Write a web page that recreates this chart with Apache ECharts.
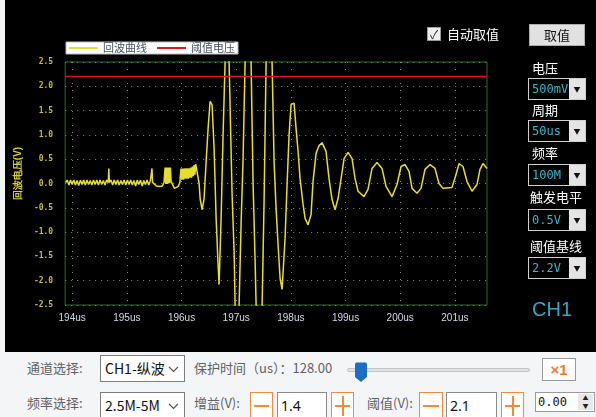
<!DOCTYPE html>
<html>
<head>
<meta charset="utf-8">
<script src="https://cdn.jsdelivr.net/npm/echarts@6/dist/echarts.min.js"></script>
<style>
body{margin:0;width:596px;height:417px;background:#f4f5f7;position:relative;overflow:hidden;font-family:"Noto Sans CJK SC","Noto Sans",sans-serif;}
#scope{position:absolute;left:5px;top:0;width:591px;height:352px;background:#000;}
#mark{position:absolute;left:0;top:0;width:591px;height:352px;}
.abs{position:absolute;white-space:nowrap;}
.wlab{position:absolute;color:#fff;font-size:13px;line-height:16px;left:532px;}
.combo{position:absolute;left:528px;width:58px;height:22px;box-sizing:border-box;border:1px solid #cfcfcf;background:#000;}
.combo span{position:absolute;left:3px;top:2px;color:#3ab7c9;font-family:"DejaVu Sans Mono",monospace;font-size:12px;line-height:16px;}
.combo i{position:absolute;right:0;top:0;width:16px;height:100%;background:#e4e4e4;font-style:normal;font-size:7px;color:#111;text-align:center;line-height:20px;}
.glab{position:absolute;color:#5f6266;font-size:13px;line-height:16px;}
.sel{position:absolute;left:100px;width:85px;height:27px;box-sizing:border-box;border:1px solid #7d7d7d;background:#fff;}
.sel span{position:absolute;left:4px;top:3px;font-size:14px;line-height:18px;color:#111;}
.sel svg{position:absolute;right:5px;top:10px;}
.obtn{position:absolute;width:23px;height:28px;box-sizing:border-box;border:1px solid #f08a3c;background:#fff;top:392px;}
.obtn b{position:absolute;left:3px;right:3px;top:12px;height:2px;background:#f08a3c;}
.obtn em{position:absolute;top:3px;bottom:3px;left:10px;width:2px;background:#f08a3c;}
.inp{position:absolute;height:28px;top:392px;box-sizing:border-box;border:1px solid #8a8a8a;background:#fff;}
.inp span{position:absolute;left:3px;top:4px;font-size:14px;line-height:18px;color:#111;font-family:"Noto Sans",sans-serif;}
</style>
</head>
<body>
<div id="scope"><div id="mark"></div></div>

<!-- right side controls -->
<div class="abs" style="left:427px;top:27px;width:14px;height:14px;box-sizing:border-box;border:1px solid #9a9a9a;background:#eeeeee;color:#333;font-size:12px;line-height:12px;text-align:center;">✓</div>
<div class="abs" style="left:447px;top:25px;color:#fff;font-size:13px;line-height:18px;">自动取值</div>
<div class="abs" style="left:529px;top:24px;width:56px;height:22px;box-sizing:border-box;border:1px solid #adadad;background:#e1e1e1;color:#111;font-size:13px;line-height:20px;text-align:center;">取值</div>

<div class="wlab" style="top:60px;">电压</div>
<div class="combo" style="top:78px;"><span>500mV</span><i>▼</i></div>
<div class="wlab" style="top:102px;">周期</div>
<div class="combo" style="top:120px;"><span>50us</span><i>▼</i></div>
<div class="wlab" style="top:145px;">频率</div>
<div class="combo" style="top:164px;"><span>100M</span><i>▼</i></div>
<div class="wlab" style="top:189px;left:530px;">触发电平</div>
<div class="combo" style="top:209px;"><span>0.5V</span><i>▼</i></div>
<div class="wlab" style="top:238px;left:530px;">阈值基线</div>
<div class="combo" style="top:257px;"><span>2.2V</span><i>▼</i></div>
<div class="abs" style="left:532px;top:296px;color:#30a9c2;font-family:'Liberation Sans',sans-serif;font-size:20px;line-height:26px;">CH1</div>

<!-- bottom panel -->
<div class="glab" style="left:27px;top:360px;">通道选择:</div>
<div class="sel" style="top:355px;"><span>CH1-纵波</span><svg width="11" height="7"><polyline points="1,1 5.5,5.5 10,1" fill="none" stroke="#555" stroke-width="1.2"/></svg></div>
<div class="glab" style="left:194px;top:360px;">保护时间（us）：128.00</div>
<div class="abs" style="left:347px;top:368px;width:183px;height:4px;box-sizing:border-box;border:1px solid #c4c4c4;background:#e2e2e2;border-radius:2px;"></div>
<svg class="abs" style="left:354px;top:362px;" width="14" height="21"><polygon points="1,2 2,0.5 12,0.5 13,2 13,15 7,20 1,15" fill="#1b6ec2"/></svg>
<div class="abs" style="left:542px;top:358px;width:34px;height:23px;box-sizing:border-box;border:1px solid #9a9a9a;background:#fff;color:#f07a1e;font-weight:bold;font-size:15px;line-height:21px;text-align:center;font-family:'Liberation Sans',sans-serif;">×1</div>

<div class="glab" style="left:27px;top:395px;">频率选择:</div>
<div class="sel" style="top:392px;height:30px;"><span>2.5M-5M</span><svg width="11" height="7"><polyline points="1,1 5.5,5.5 10,1" fill="none" stroke="#555" stroke-width="1.2"/></svg></div>
<div class="glab" style="left:194px;top:395px;">增益(V):</div>
<div class="obtn" style="left:250px;"><b></b></div>
<div class="inp" style="left:277px;width:50px;"><span>1.4</span></div>
<div class="obtn" style="left:331px;"><b></b><em></em></div>
<div class="glab" style="left:367px;top:395px;">阈值(V):</div>
<div class="obtn" style="left:419px;width:24px;"><b></b></div>
<div class="inp" style="left:446px;width:51px;"><span>2.1</span></div>
<div class="obtn" style="left:501px;"><b></b><em></em></div>
<div class="abs" style="left:535px;top:392px;width:60px;height:20px;box-sizing:border-box;border:1px solid #9a9a9a;background:#fff;">
  <span style="position:absolute;left:2px;top:1px;font-family:'DejaVu Sans Mono',monospace;font-size:12px;line-height:16px;color:#111;">0.00</span>
  <span style="position:absolute;right:1px;top:1px;width:15px;height:16px;background:#e8e8e8;font-size:6px;line-height:8px;text-align:center;color:#222;">▲<br>▼</span>
</div>

<script>
var myChart = echarts.init(document.getElementById('mark'));

// echo waveform: time in us, voltage in V
var time = [
  193.88,193.91,193.94,193.97,194.00,194.03,194.06,194.09,194.12,194.15,194.18,194.21,194.24,194.27,194.30,194.33,194.36,194.39,194.42,194.45,194.48,194.51,194.54,194.57,194.60,194.63,
  194.66,194.67,194.68,
  194.71,194.74,194.77,194.80,194.83,194.86,194.89,194.92,194.95,194.98,195.01,195.04,195.07,195.10,195.13,195.16,195.19,195.22,195.25,195.28,195.31,195.34,195.37,195.40,195.43,
  195.45,195.46,195.47,
  195.50,195.54,195.60,195.65,195.68,
  195.700,195.712,195.724,195.736,195.748,195.760,195.772,195.784,195.796,195.808,
  195.83,195.87,195.90,195.94,195.97,
  195.990,196.005,196.020,196.035,196.050,196.065,196.080,196.095,196.110,196.125,196.140,196.155,196.170,196.185,196.200,196.215,196.230,196.245,196.260,196.275,
  196.322,196.340,196.377,196.413,196.450,196.486,196.523,196.559,196.596,196.633,196.669,196.687,196.724,196.760,196.797,196.834,196.870,196.925,196.962,196.980,
  197.016,197.053,197.089,197.126,197.163,197.218,197.272,197.309,197.346,197.364,197.419,197.474,197.510,197.547,197.601,197.656,197.693,197.729,197.766,197.803,197.839,197.894,197.931,197.967,
  198.004,198.059,198.095,198.132,198.168,198.223,198.260,198.314,198.369,198.406,198.461,198.516,198.570,198.643,198.698,198.753,198.808,198.863,198.918,198.973,
  199.046,199.119,199.174,199.229,199.338,199.411,199.484,199.576,199.667,199.740,199.850,199.941,
  200.015,200.088,200.161,200.216,200.307,200.380,200.453,200.545,200.636,200.709,200.782,200.947,
  201.020,201.075,201.148,201.221,201.313,201.404,201.459,201.514,201.587
];
var volt = [
  0.02,0.07,-0.03,0.07,-0.02,0.07,-0.03,0.06,-0.04,0.07,-0.02,0.07,-0.03,0.07,-0.02,0.06,-0.03,0.07,-0.02,0.07,-0.03,0.07,-0.02,0.06,-0.03,0.07,
  0.02,0.31,0.02,
  0.07,-0.03,0.07,-0.02,0.07,-0.03,0.06,-0.02,0.07,-0.03,0.07,-0.02,0.07,-0.03,0.06,-0.05,0.07,-0.02,0.07,-0.05,0.06,-0.02,0.07,-0.03,0.06,
  0.02,0.31,0.02,
  0.03,-0.05,-0.06,-0.05,0.02,
  0.33,-0.01,0.33,-0.01,0.33,0.00,0.33,0.01,0.33,0.05,
  0.02,-0.10,-0.12,-0.06,0.02,
  0.31,0.08,0.31,0.08,0.31,0.10,0.31,0.10,0.31,0.10,0.31,0.12,0.33,0.12,0.35,0.15,0.38,0.18,0.40,0.30,
  0.0,-0.31,-0.54,-0.31,0.45,1.13,1.69,1.62,0.72,-0.72,-1.67,-2.08,-0.72,1.0,2.5,3.5,2.5,-0.23,-1.4,-2.5,
  -3.5,-2.5,-0.85,0.51,2.5,3.6,2.5,0.0,-1.6,-2.5,-3.6,-2.5,-0.37,2.5,3.3,2.5,0.45,-0.51,-1.26,-1.95,-2.18,-1.13,0.0,1.0,
  1.63,1.65,1.13,0.66,0.1,-0.43,-0.72,-0.85,-0.64,0.05,0.62,0.78,0.84,0.66,0.1,-0.33,-0.54,-0.31,0.1,0.51,
  0.64,0.51,0.1,-0.16,-0.27,-0.12,0.31,0.43,0.31,-0.06,-0.27,-0.02,
  0.35,0.39,0.25,-0.1,-0.2,-0.1,0.29,0.39,0.31,0.0,-0.1,-0.08,
  0.18,0.41,0.35,0.04,-0.16,-0.02,0.29,0.41,0.31
];
var threshold = 2.2;
var xMin = 193.872;
var xMax = 201.587;
var xTicks = [194, 195, 196, 197, 198, 199, 200, 201];
var seriesNames = ['回波曲线', '阈值电压'];

var echo = [];
for (var i = 0; i < time.length; i++) {
    echo.push([time[i], volt[i]]);
}

option = {
    backgroundColor: '#000',
    animation: false,
    legend: {
        left: 61,
        top: 42,
        padding: [0, 3, 0, 3],
        itemGap: 10,
        itemWidth: 29,
        itemHeight: 2,
        icon: 'rect',
        backgroundColor: '#fff',
        borderColor: '#bdbdbd',
        borderWidth: 1,
        textStyle: {color: '#4c4f5c', fontSize: 11, lineHeight: 12, fontFamily: 'Noto Sans CJK SC'},
        data: seriesNames
    },
    grid: {
        left: 60, top: 62, right: 109, bottom: 47,
        show: true,
        borderColor: '#2e6d2e',
        borderWidth: 1
    },
    xAxis: {
        type: 'value',
        min: xMin,
        max: xMax,
        axisLine: {show: false},
        axisTick: {show: false, customValues: xTicks},
        axisLabel: {
            customValues: xTicks,
            formatter: function (v) { return v + 'us'; },
            color: '#d2dae8',
            fontSize: 10,
            fontFamily: 'Liberation Sans',
            margin: 8
        },
        splitLine: {show: true, lineStyle: {color: '#8a8a8a', type: [1, 6]}}
    },
    yAxis: {
        type: 'value',
        min: -2.5,
        max: 2.5,
        interval: 0.5,
        name: '回波电压(V)',
        nameLocation: 'middle',
        nameGap: 37,
        nameTextStyle: {color: '#d8d030', fontSize: 10, fontWeight: 'bold', padding: [0, 0, 0, 20]},
        axisLine: {show: false},
        axisTick: {show: false},
        axisLabel: {
            formatter: function (v) { return v.toFixed(1); },
            color: '#c4bc3a',
            fontSize: 8,
            fontWeight: 'bold',
            fontFamily: 'DejaVu Sans Mono',
            margin: 12
        },
        splitLine: {lineStyle: {color: '#8a8a8a', type: [1, 5]}}
    },
    series: [
        {
            name: seriesNames[0],
            type: 'line',
            symbol: 'none',
            clip: true,
            lineStyle: {color: '#e6de2e', width: 1.5},
            itemStyle: {color: '#e6de2e'},
            data: echo
        },
        {
            name: seriesNames[1],
            type: 'line',
            symbol: 'none',
            lineStyle: {color: '#e01818', width: 1.5},
            itemStyle: {color: '#e01818'},
            data: [[xMin, threshold], [xMax, threshold]]
        }
    ]
};
myChart.setOption(option);
</script>
</body>
</html>
